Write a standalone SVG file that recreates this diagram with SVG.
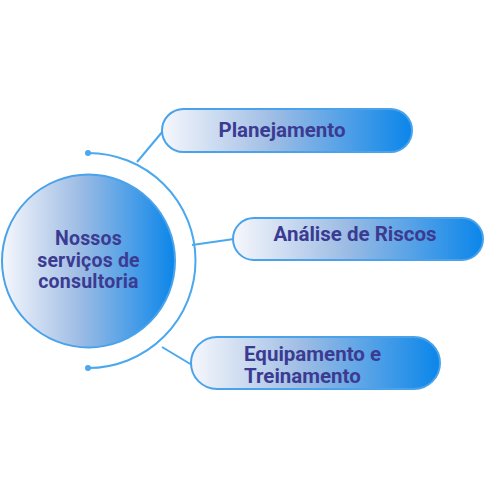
<svg xmlns="http://www.w3.org/2000/svg" width="500" height="500" viewBox="0 0 500 500">
<defs>
<linearGradient id="g" x1="0" y1="0" x2="1" y2="0">
<stop offset="0" stop-color="#f6f7fc"/>
<stop offset="0.45" stop-color="#9dbce4"/>
<stop offset="1" stop-color="#0a86ea"/>
</linearGradient>
<style>
.shape{fill:url(#g);stroke:#4aa3ea;stroke-width:2}
.lbl{font-family:Roboto,"Liberation Sans",sans-serif;font-weight:bold;font-size:20.5px;fill:#3b3b92}
.con{fill:none;stroke:#4aa8ee;stroke-width:2}
</style>
</defs>
<rect width="500" height="500" fill="#ffffff"/>
<g id="connectors">
<path class="con" d="M88,153 A107.5,107.5 0 0 1 88,368"/>
<circle cx="88" cy="153" r="3" fill="#4aa8ee"/>
<circle cx="88" cy="368" r="3" fill="#4aa8ee"/>
<line class="con" x1="137" y1="162" x2="163" y2="131"/>
<line class="con" x1="192" y1="245" x2="234" y2="239"/>
<line class="con" x1="162" y1="347" x2="192" y2="365"/>
</g>
<g id="center">
<circle class="shape" cx="88.5" cy="261" r="86.5" stroke="#3f8ee0"/>
<text class="lbl" text-anchor="middle" style="font-size:19.5px;letter-spacing:0.2px"><tspan x="88.5" y="245">Nossos</tspan><tspan x="88.5" y="266.5">serviços de</tspan><tspan x="88.5" y="288">consultoria</tspan></text>
</g>
<g id="planejamento">
<rect class="shape" x="162" y="109" width="250" height="43" rx="21.5"/>
<text class="lbl" text-anchor="middle" x="282" y="137">Planejamento</text>
</g>
<g id="analise">
<rect class="shape" x="233" y="218" width="250" height="42" rx="21"/>
<text class="lbl" text-anchor="middle" x="355" y="241">Análise de Riscos</text>
</g>
<g id="equipamento">
<rect class="shape" x="191" y="337" width="249" height="52" rx="26"/>
<text class="lbl"><tspan x="244" y="361">Equipamento e</tspan><tspan x="244" y="383">Treinamento</tspan></text>
</g>
</svg>
